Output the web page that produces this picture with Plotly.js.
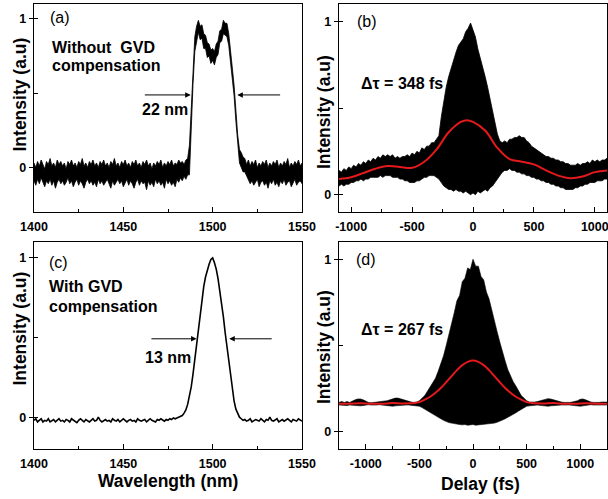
<!DOCTYPE html>
<html>
<head>
<meta charset="utf-8">
<script src="https://cdn.plot.ly/plotly-3.0.1.min.js"></script>
<style>html,body{margin:0;padding:0;background:#fff}#plot{width:608px;height:499px}</style>
</head>
<body>
<div id="plot"></div>
<script>
// ---------- Panel (a): spectrum without GVD compensation (noisy trace, drawn as its band), 1400..1550 nm, step 1 nm ----------
const specA_start = 1400, specA_step = 1;
const specA_upper = [
0.03,0.0,0.04,0.01,0.05,0.02,-0.01,0.04,0.02,0.06,
0.01,0.03,0.0,0.05,0.02,0.04,0.01,0.03,-0.01,0.04,
0.02,0.05,0.01,0.03,0.0,0.04,0.02,0.06,0.01,0.03,
0.0,0.04,0.02,0.05,0.01,0.03,0.0,0.04,0.02,0.05,
0.01,0.03,0.0,0.04,0.02,0.06,0.01,0.03,0.0,0.04,
0.02,0.05,0.01,0.03,0.0,0.04,0.02,0.05,0.01,0.03,
0.0,0.04,0.02,0.05,0.01,0.03,-0.01,0.03,0.01,0.04,
0.02,0.05,0.0,0.03,0.01,0.04,0.02,0.05,0.01,0.03,
0.02,0.05,0.03,0.04,0.02,0.05,0.06,
0.15,0.42,0.7,0.88,0.95,0.99,0.95,0.96,0.9,0.89,
0.84,0.83,0.79,0.8,0.78,0.83,0.85,0.92,0.93,0.99,
0.97,0.97,0.9,0.8,0.67,0.55,0.38,0.22,0.12,0.1,0.07,
0.06,0.02,0.05,0.01,0.04,0.02,0.05,0.0,0.03,0.01,
0.04,0.02,0.05,0.0,0.03,0.01,0.04,0.02,0.05,0.0,
0.03,0.01,0.04,0.02,0.06,0.0,0.03,0.01,0.04,0.02,
0.05,0.01,0.03
];
const specA_lower = [
-0.09,-0.12,-0.08,-0.11,-0.07,-0.1,-0.13,-0.09,-0.11,-0.08,
-0.12,-0.09,-0.14,-0.1,-0.08,-0.11,-0.09,-0.12,-0.1,-0.07,
-0.11,-0.09,-0.13,-0.1,-0.08,-0.12,-0.09,-0.11,-0.14,-0.1,
-0.08,-0.11,-0.09,-0.12,-0.1,-0.13,-0.08,-0.11,-0.09,-0.12,
-0.1,-0.08,-0.11,-0.14,-0.09,-0.12,-0.1,-0.08,-0.11,-0.09,
-0.13,-0.1,-0.08,-0.12,-0.09,-0.11,-0.14,-0.1,-0.08,-0.12,
-0.09,-0.11,-0.1,-0.15,-0.09,-0.12,-0.1,-0.13,-0.08,-0.11,
-0.09,-0.12,-0.1,-0.14,-0.08,-0.11,-0.09,-0.12,-0.1,-0.13,
-0.08,-0.1,-0.07,-0.09,-0.06,-0.08,-0.05,
-0.05,0.3,0.56,0.78,0.86,0.91,0.86,0.87,0.8,0.8,
0.74,0.75,0.7,0.72,0.69,0.74,0.76,0.84,0.85,0.9,
0.89,0.88,0.82,0.72,0.6,0.48,0.31,0.14,0.03,0.0,-0.03,
-0.03,-0.06,-0.08,-0.11,-0.09,-0.12,-0.1,-0.08,-0.13,-0.1,
-0.09,-0.12,-0.1,-0.14,-0.09,-0.11,-0.08,-0.12,-0.1,-0.13,
-0.09,-0.11,-0.08,-0.12,-0.1,-0.09,-0.13,-0.1,-0.08,-0.12,
-0.1,-0.09,-0.11
];

// ---------- Panel (c): spectrum with GVD compensation, 1400..1550 nm, step 1 nm ----------
const specC_start = 1400, specC_step = 1;
const specC = [
-0.02,-0.01,-0.03,-0.02,-0.01,-0.03,-0.02,-0.025,-0.01,-0.03,
-0.02,-0.015,-0.03,-0.02,-0.01,-0.025,-0.02,-0.03,-0.015,-0.02,
-0.03,-0.01,-0.02,-0.025,-0.035,-0.02,-0.01,-0.02,-0.03,-0.015,
-0.02,-0.03,-0.02,-0.01,-0.025,-0.02,0.0,-0.02,-0.03,-0.02,
-0.015,-0.025,-0.02,-0.03,-0.01,-0.02,-0.025,-0.015,-0.03,-0.02,
-0.01,-0.02,-0.03,-0.02,-0.015,-0.025,-0.02,-0.03,-0.01,-0.02,
-0.025,-0.02,-0.015,-0.03,-0.02,-0.01,-0.02,-0.025,-0.03,-0.015,
-0.02,-0.01,-0.02,-0.025,-0.015,-0.02,-0.01,-0.015,-0.005,-0.01,
-0.005,0.0,
0.0,0.01,0.025,0.045,0.08,0.13,0.19,0.27,0.36,0.46,
0.56,0.66,0.75,0.82,0.88,0.93,0.96,0.99,1.0,0.97,
0.93,0.87,0.8,0.72,0.63,0.53,0.44,0.34,0.25,0.17,
0.1,0.05,0.02,0.0,
-0.01,-0.02,-0.015,-0.025,-0.02,-0.01,-0.03,-0.02,-0.015,-0.02,
-0.025,-0.01,-0.02,-0.03,-0.015,-0.02,0.0,-0.02,-0.025,-0.02,
-0.01,-0.03,-0.02,-0.015,-0.025,-0.02,-0.01,-0.02,-0.03,-0.015,
-0.02,-0.025,-0.01,-0.02,-0.025
];

// ---------- Panel (b): autocorrelation envelope, -1100..1100 fs, step 20 fs ----------
const acB_start = -1100, acB_step = 20;
const acB_upper = [
0.14,0.13,0.15,0.14,0.16,0.15,0.17,0.16,0.18,0.17,
0.19,0.18,0.2,0.19,0.21,0.2,0.22,0.21,0.23,0.22,
0.23,0.22,0.23,0.21,0.22,0.21,0.22,0.22,0.23,0.22,
0.24,0.23,0.25,0.24,0.27,0.26,0.28,0.28,0.3,0.3,
0.32,0.34,0.45,0.55,0.62,0.68,0.73,0.78,0.82,0.86,
0.88,0.9,0.94,0.96,0.99,0.95,0.91,0.84,0.79,0.74,
0.68,0.62,0.55,0.48,0.41,0.35,0.31,0.3,
0.31,0.3,0.32,0.32,0.33,0.33,0.34,0.33,0.33,0.31,
0.3,0.28,0.27,0.26,0.25,0.24,0.23,0.22,0.22,0.21,
0.21,0.2,0.2,0.19,0.19,0.18,0.18,0.17,0.17,0.17,
0.18,0.17,0.18,0.18,0.19,0.18,0.2,0.19,0.2,0.19,
0.2,0.2,0.21
];
const acB_lower = [
0.05,0.06,0.05,0.06,0.06,0.07,0.07,0.08,0.08,0.09,
0.08,0.09,0.09,0.1,0.1,0.1,0.1,0.11,0.1,0.11,
0.11,0.11,0.1,0.1,0.1,0.09,0.09,0.08,0.08,0.07,
0.07,0.07,0.08,0.08,0.09,0.1,0.1,0.11,0.11,0.11,
0.1,0.09,0.07,0.05,0.04,0.03,0.03,0.02,0.03,0.02,
0.02,0.01,0.02,0.01,0.0,0.01,0.0,0.02,0.01,0.02,
0.03,0.02,0.04,0.05,0.07,0.09,0.11,0.13,
0.14,0.14,0.15,0.14,0.14,0.13,0.13,0.12,0.12,0.11,
0.11,0.1,0.1,0.09,0.09,0.08,0.08,0.07,0.07,0.06,
0.06,0.05,0.05,0.04,0.04,0.03,0.03,0.03,0.03,0.04,
0.04,0.05,0.05,0.06,0.06,0.07,0.07,0.07,0.08,0.08,
0.08,0.09,0.09
];
const fitB_x = [-1100,-1000,-900,-800,-700,-600,-500,-400,-300,-200,-100,-50,0,100,200,300,400,500,600,700,800,900,1000,1100];
const fitB_y = [0.09,0.1,0.125,0.15,0.165,0.16,0.155,0.19,0.26,0.36,0.42,0.43,0.42,0.37,0.27,0.205,0.19,0.175,0.14,0.11,0.095,0.105,0.13,0.14];

// ---------- Panel (d): autocorrelation envelope, -1250..1250 fs, step 25 fs ----------
const acD_start = -1250, acD_step = 25;
const acD_upper = [
0.17,0.175,0.17,0.175,0.17,0.18,0.185,0.19,0.19,0.185,
0.175,0.17,0.168,0.17,0.168,0.17,0.172,0.175,0.18,0.185,
0.19,0.195,0.195,0.19,0.185,0.18,0.175,0.172,0.17,0.172,
0.18,0.195,0.21,0.235,0.26,0.285,0.31,0.35,0.39,0.44,
0.5,0.56,0.62,0.69,0.76,0.79,0.87,0.89,0.95,0.94,
1.0,0.96,0.96,0.9,0.88,0.81,0.77,0.7,0.64,0.58,
0.52,0.46,0.41,0.36,0.32,0.29,0.265,0.24,0.21,0.195,0.18,
0.172,0.17,0.172,0.175,0.18,0.185,0.19,0.192,0.19,0.185,
0.18,0.175,0.172,0.17,0.168,0.17,0.172,0.175,0.18,0.188,
0.19,0.185,0.178,0.172,0.17,0.168,0.17,0.172,0.17,0.172
];
const acD_lower = [
0.155,0.153,0.155,0.152,0.155,0.153,0.15,0.148,0.15,0.152,
0.155,0.157,0.155,0.153,0.155,0.157,0.155,0.153,0.15,0.148,
0.148,0.15,0.152,0.155,0.157,0.155,0.155,0.153,0.152,0.15,
0.148,0.14,0.13,0.12,0.11,0.1,0.09,0.082,0.075,0.066,
0.058,0.053,0.05,0.046,0.044,0.042,0.04,0.042,0.038,0.04,
0.042,0.038,0.04,0.042,0.04,0.044,0.046,0.048,0.05,0.055,
0.06,0.068,0.075,0.083,0.09,0.1,0.11,0.12,0.13,0.14,0.148,
0.15,0.152,0.153,0.155,0.153,0.15,0.148,0.148,0.15,0.152,
0.155,0.157,0.155,0.155,0.157,0.155,0.153,0.15,0.148,0.148,
0.15,0.153,0.155,0.157,0.155,0.155,0.153,0.155,0.155,0.155
];
const fitD_x = [-1250,-1150,-1050,-950,-850,-750,-650,-550,-500,-450,-400,-350,-300,-250,-200,-150,-100,-50,0,50,100,150,200,250,300,350,400,450,500,550,650,750,850,950,1050,1150,1250];
const fitD_y = [0.162,0.163,0.165,0.162,0.163,0.166,0.164,0.166,0.172,0.186,0.203,0.226,0.254,0.287,0.322,0.357,0.386,0.405,0.413,0.405,0.386,0.357,0.322,0.287,0.254,0.226,0.203,0.186,0.172,0.166,0.164,0.166,0.163,0.162,0.165,0.163,0.162];

// ---------- tick labels and texts ----------
const specTicks = [1400, 1450, 1500, 1550];
const specTickText = ['1400', '1450', '1500', '1550'];
const delayTicks = [-1000, -500, 0, 500, 1000];
const delayTickText = ['-1000', '-500', '0', '500', '1000'];
const intTicks = [0, 1];
const intTickText = ['0', '1'];
const panelLabels = ['(a)','(b)','(c)','(d)'];
const noteA = ['Without\u00a0 GVD','compensation'];
const noteC = ['With GVD','compensation'];
const widthA = '22 nm', widthC = '13 nm';
const pulseB = '\u0394\u03c4 = 348 fs', pulseD = '\u0394\u03c4 = 267 fs';
const yTitle = 'Intensity (a.u)';
const xTitleSpec = 'Wavelength (nm)', xTitleDelay = 'Delay (fs)';

const FONT = 'Liberation Sans, Arial, sans-serif';
const RED = '#e3191c';
const B = s => '<b>' + s + '</b>';

const traces = [
  {type:'scatter', mode:'lines', x0:specA_start, dx:specA_step, y:specA_lower, xaxis:'x', yaxis:'y',
   line:{color:'#000', width:0.8}},
  {type:'scatter', mode:'lines', x0:specA_start, dx:specA_step, y:specA_upper, xaxis:'x', yaxis:'y',
   fill:'tonexty', fillcolor:'#000', line:{color:'#000', width:0.8}},
  {type:'scatter', mode:'lines', x0:acB_start, dx:acB_step, y:acB_lower, xaxis:'x2', yaxis:'y2',
   line:{color:'#000', width:0.8}},
  {type:'scatter', mode:'lines', x0:acB_start, dx:acB_step, y:acB_upper, xaxis:'x2', yaxis:'y2',
   fill:'tonexty', fillcolor:'#000', line:{color:'#000', width:0.8}},
  {type:'scatter', mode:'lines', x:fitB_x, y:fitB_y, xaxis:'x2', yaxis:'y2',
   line:{color:RED, width:2, shape:'spline', smoothing:1}},
  {type:'scatter', mode:'lines', x0:specC_start, dx:specC_step, y:specC, xaxis:'x3', yaxis:'y3',
   line:{color:'#000', width:1.6}},
  {type:'scatter', mode:'lines', x0:acD_start, dx:acD_step, y:acD_lower, xaxis:'x4', yaxis:'y4',
   line:{color:'#000', width:0.6}},
  {type:'scatter', mode:'lines', x0:acD_start, dx:acD_step, y:acD_upper, xaxis:'x4', yaxis:'y4',
   fill:'tonexty', fillcolor:'#000', line:{color:'#000', width:0.6}},
  {type:'scatter', mode:'lines', x:fitD_x, y:fitD_y, xaxis:'x4', yaxis:'y4',
   line:{color:RED, width:2, shape:'spline', smoothing:1}}
];

const tickFont = {family:FONT, size:12.5, color:'#000', weight:'bold'};
function xax(domain, range, vals, texts, minor, anchor){
  return {domain:domain, range:range, anchor:anchor,
    tickmode:'array', tickvals:vals, ticktext:texts.map(B),
    ticks:'inside', ticklen:5, tickwidth:1, tickcolor:'#000', ticklabeloverflow:'allow',
    ticklabelstandoff:3,
    minor:{tickmode:'linear', tick0:0, dtick:minor, ticks:'inside', ticklen:3, tickwidth:1, tickcolor:'#000'},
    showline:true, mirror:true, linecolor:'#000', linewidth:1.3,
    showgrid:false, zeroline:false, tickfont:tickFont, fixedrange:true};
}
function yax(domain, range, anchor){
  return {domain:domain, range:range, anchor:anchor,
    tickmode:'array', tickvals:intTicks, ticktext:intTickText.map(B),
    ticks:'outside', ticklen:4, tickwidth:1, tickcolor:'#000',
    minor:{tickmode:'linear', tick0:0, dtick:0.5, ticks:'inside', ticklen:4, tickwidth:1, tickcolor:'#000'},
    showline:true, mirror:true, linecolor:'#000', linewidth:1.3,
    showgrid:false, zeroline:false, tickfont:tickFont, fixedrange:true};
}

const xL = [34/608, 302/608], xR = [339/608, 607/608];
const yT = [(499-212)/499, (499-4)/499], yB = [(499-449)/499, (499-242)/499];

const boldFont = {family:FONT, size:16, color:'#000', weight:'bold'};
const txt = (x, y, xr, yr, text, opts) => Object.assign({x:x, y:y, xref:xr, yref:yr, text:text,
  showarrow:false, xanchor:'left', yanchor:'middle', font:boldFont}, opts || {});
const arr = (x, y, ax, xr, yr) => ({x:x, y:y, ax:ax, ay:y, xref:xr, yref:yr, axref:xr, ayref:yr,
  text:'', showarrow:true, arrowhead:2, arrowsize:1.1, arrowwidth:1, arrowcolor:'#000'});
const normal = {font:{family:FONT, size:16, color:'#000'}};
const titleFont = {family:FONT, size:17.5, color:'#000', weight:'bold'};
const ytl = (xpx, ypx) => ({x:xpx/608, y:(499-ypx)/499, xref:'paper', yref:'paper', text:B(yTitle),
  showarrow:false, textangle:-90, xanchor:'center', yanchor:'middle', font:titleFont});
const xtl = (xpx, ypx, text) => ({x:xpx/608, y:(499-ypx)/499, xref:'paper', yref:'paper', text:B(text),
  showarrow:false, xanchor:'center', yanchor:'middle', font:titleFont});

const annotations = [
  txt(1408, 1.01, 'x', 'y', panelLabels[0], normal),
  txt(1409, 0.807, 'x', 'y', noteA[0]),
  txt(1409, 0.685, 'x', 'y', noteA[1]),
  txt(1473.5, 0.39, 'x', 'y', widthA, {xanchor:'center'}),
  arr(1487.7, 0.488, 1461.2, 'x', 'y'),
  arr(1513.8, 0.488, 1538.6, 'x', 'y'),

  txt(-965, 1.0, 'x2', 'y2', panelLabels[1], normal),
  txt(-938, 0.64, 'x2', 'y2', pulseB),

  txt(1407, 0.97, 'x3', 'y3', panelLabels[2], normal),
  txt(1407, 0.82, 'x3', 'y3', noteC[0]),
  txt(1407, 0.696, 'x3', 'y3', noteC[1]),
  txt(1475, 0.373, 'x3', 'y3', widthC, {xanchor:'center'}),
  arr(1491, 0.492, 1464.9, 'x3', 'y3'),
  arr(1509.3, 0.492, 1533.9, 'x3', 'y3'),

  txt(-1110, 1.0, 'x4', 'y4', panelLabels[3], normal),
  txt(-1065, 0.59, 'x4', 'y4', pulseD),

  ytl(19.5, 95), ytl(324, 112), ytl(19.5, 329), ytl(324, 347),
  xtl(168, 481, xTitleSpec), xtl(481, 484, xTitleDelay)
];

const layout = {
  width:608, height:499, margin:{l:0, r:0, t:0, b:0},
  paper_bgcolor:'#fff', plot_bgcolor:'#fff', showlegend:false,
  font:{family:FONT, color:'#000'},
  xaxis: xax(xL, [1400,1550], specTicks, specTickText, 25, 'y'),
  yaxis: yax(yT, [-0.3,1.1], 'x'),
  xaxis2: xax(xR, [-1100,1100], delayTicks, delayTickText, 250, 'y2'),
  yaxis2: yax(yT, [-0.1,1.1], 'x2'),
  xaxis3: xax(xL, [1400,1550], specTicks, specTickText, 25, 'y3'),
  yaxis3: yax(yB, [-0.2,1.1], 'x3'),
  xaxis4: xax(xR, [-1250,1250], delayTicks, delayTickText, 250, 'y4'),
  yaxis4: yax(yB, [-0.1,1.1], 'x4'),
  annotations: annotations
};

Plotly.newPlot('plot', traces, layout, {staticPlot:true, displayModeBar:false});
</script>
</body>
</html>
